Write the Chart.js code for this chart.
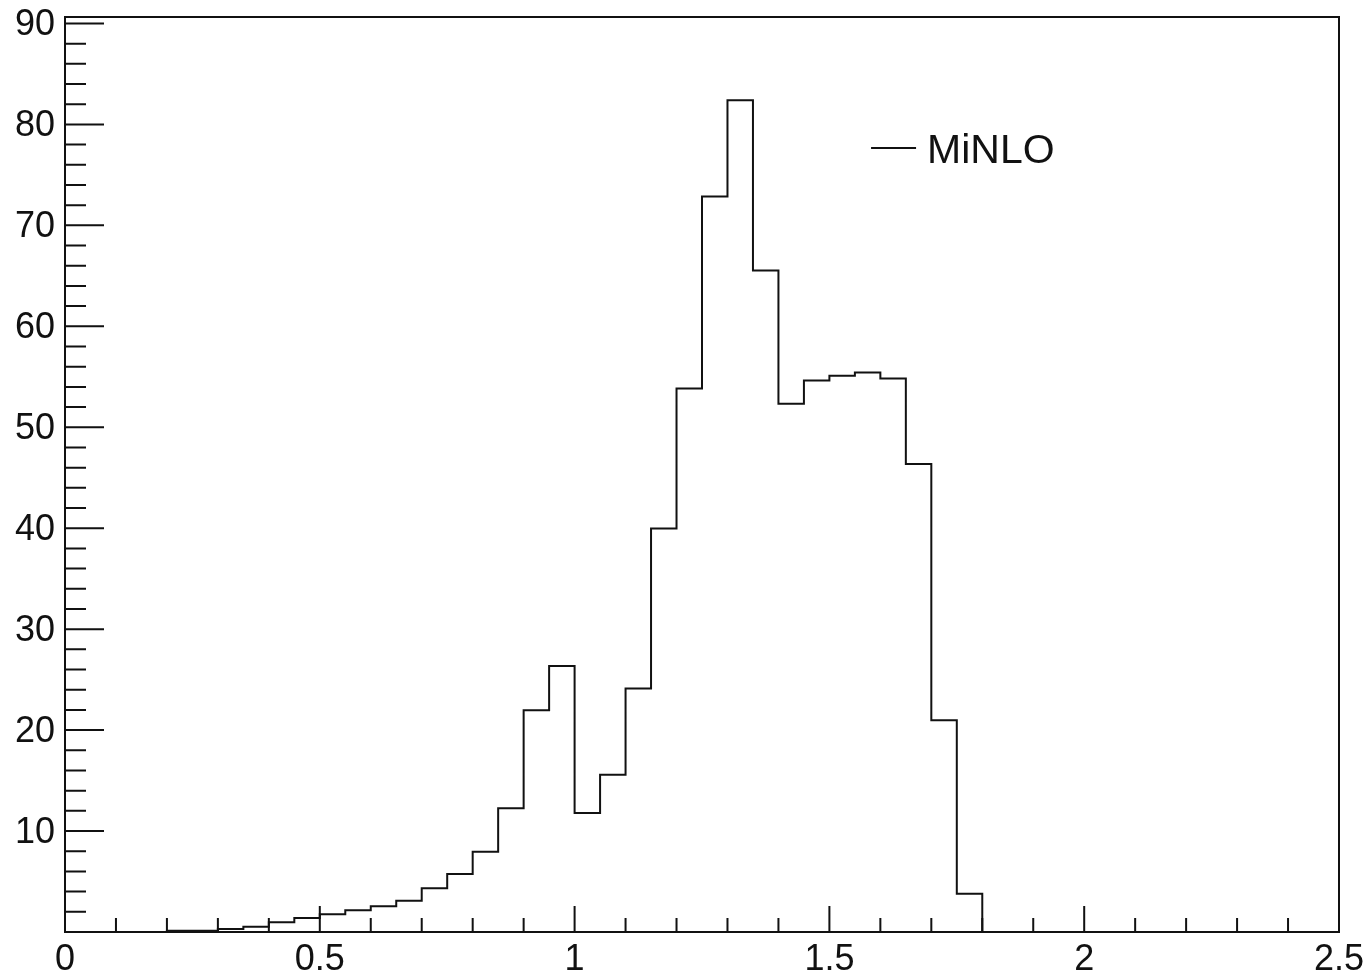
<!DOCTYPE html>
<html>
<head>
<meta charset="utf-8">
<script src="https://cdn.jsdelivr.net/npm/chart.js@4.4.1/dist/chart.umd.min.js"></script>
<style>
  html, body { margin: 0; padding: 0; background: #fff; }
  canvas { display: block; }
</style>
</head>
<body>
<canvas id="c" width="1368" height="976"></canvas>
<script>
// Histogram definition: 50 bins of equal width over [0, 2.5]
const seriesLabel = 'MiNLO';
const xMin = 0;
const xMax = 2.5;
const nBins = 50;
const counts = [
  0, 0, 0, 0,
  0.12, 0.12,
  0.3, 0.53, 0.97, 1.38, 1.77, 2.15, 2.54, 3.1, 4.33, 5.74,
  7.95, 12.25, 21.96, 26.34, 11.8, 15.58, 24.13, 39.98, 53.85, 72.86,
  82.4, 65.53, 52.32, 54.62, 55.1, 55.43, 54.84, 46.35, 20.97, 3.8,
  0, 0, 0, 0, 0, 0, 0, 0, 0, 0, 0, 0, 0, 0
];

// Axis tick values and the labels shown at major ticks
const xMajorTicks = [0, 0.5, 1, 1.5, 2, 2.5];
const xTickLabels = ['0', '0.5', '1', '1.5', '2', '2.5'];
const xMinorStep = 0.1;
const yMajorTicks = [10, 20, 30, 40, 50, 60, 70, 80, 90];
const yTickLabels = ['10', '20', '30', '40', '50', '60', '70', '80', '90'];
const yMinorStep = 2;

// Build the step outline: one point per lower bin edge, plus the final upper edge
const binWidth = (xMax - xMin) / nBins;
const outline = counts.map((v, i) => ({ x: xMin + i * binWidth, y: v }));
outline.push({ x: xMax, y: counts[counts.length - 1] });

const yMax = 1.1 * Math.max(...counts);

function near(a, b) { return Math.abs(a - b) < 1e-6; }
function labelFor(v, majors, labels) {
  for (let i = 0; i < majors.length; i++) if (near(v, majors[i])) return labels[i];
  return '';
}
function stepValues(lo, hi, step) {
  const out = [];
  const n = Math.round((hi - lo) / step);
  for (let i = 0; i <= n; i++) out.push(+(lo + i * step).toFixed(6));
  return out;
}

const FONT = '"Liberation Sans", Arial, Helvetica, sans-serif';
const INK = '#111';

// Frame, inward tick marks and the legend entry
const frameAndLegend = {
  id: 'frameAndLegend',
  afterDatasetsDraw(chart) {
    const { ctx, chartArea: a, scales } = chart;
    ctx.save();
    ctx.strokeStyle = INK;
    ctx.lineWidth = 2;
    ctx.strokeRect(a.left, a.top, a.right - a.left, a.bottom - a.top);

    ctx.beginPath();
    for (const t of scales.x.ticks) {
      const px = scales.x.getPixelForValue(t.value);
      const len = labelFor(t.value, xMajorTicks, xTickLabels) ? 26 : 14;
      ctx.moveTo(px, a.bottom);
      ctx.lineTo(px, a.bottom - len);
    }
    for (const t of scales.y.ticks) {
      const py = scales.y.getPixelForValue(t.value);
      const len = labelFor(t.value, yMajorTicks, yTickLabels) ? 39 : 21;
      ctx.moveTo(a.left, py);
      ctx.lineTo(a.left + len, py);
    }
    ctx.stroke();

    // legend
    const ly = 148;
    const lx = a.left + 0.6327 * (a.right - a.left);
    ctx.beginPath();
    ctx.moveTo(lx, ly);
    ctx.lineTo(lx + 45, ly);
    ctx.stroke();
    ctx.fillStyle = INK;
    ctx.font = '41px ' + FONT;
    ctx.textBaseline = 'alphabetic';
    ctx.textAlign = 'left';
    ctx.fillText(chart.data.datasets[0].label, lx + 56, ly + 15);
    ctx.restore();
  }
};

new Chart(document.getElementById('c'), {
  type: 'line',
  data: {
    datasets: [{
      label: seriesLabel,
      data: outline,
      stepped: 'before',
      borderColor: INK,
      borderWidth: 2,
      pointRadius: 0,
      fill: false,
      tension: 0
    }]
  },
  options: {
    responsive: false,
    animation: false,
    events: [],
    layout: { padding: { left: 0, right: 29, top: 17, bottom: 0 } },
    plugins: { legend: { display: false }, tooltip: { enabled: false } },
    scales: {
      x: {
        type: 'linear',
        min: xMin,
        max: xMax,
        afterBuildTicks(s) { s.ticks = stepValues(xMin, xMax, xMinorStep).map(v => ({ value: v })); },
        afterFit(s) { s.height = 44; s.paddingLeft = 0; s.paddingRight = 0; },
        grid: { display: false, drawTicks: false },
        border: { display: false },
        ticks: {
          autoSkip: false,
          maxRotation: 0,
          padding: 6,
          color: INK,
          font: { family: FONT, size: 36 },
          callback: v => labelFor(v, xMajorTicks, xTickLabels)
        }
      },
      y: {
        type: 'linear',
        min: 0,
        max: yMax,
        afterBuildTicks(s) { s.ticks = stepValues(0, 90, yMinorStep).map(v => ({ value: v })); },
        afterFit(s) { s.width = 65; s.paddingTop = 0; s.paddingBottom = 0; },
        grid: { display: false, drawTicks: false },
        border: { display: false },
        ticks: {
          autoSkip: false,
          padding: 10,
          labelOffset: 2,
          color: INK,
          font: { family: FONT, size: 36 },
          callback: v => labelFor(v, yMajorTicks, yTickLabels)
        }
      }
    }
  },
  plugins: [frameAndLegend]
});
</script>
</body>
</html>
